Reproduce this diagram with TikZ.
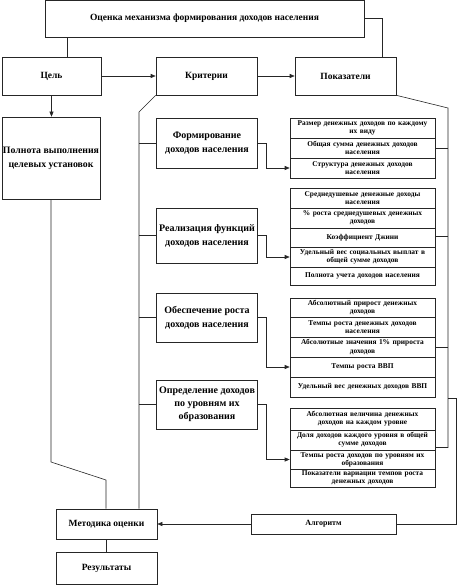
\documentclass[tikz,border=0pt]{standalone}
\usepackage{fontspec}
\setmainfont{Liberation Serif}
\usetikzlibrary{arrows.meta,calc}

\begin{document}
\begin{tikzpicture}[x=1pt,y=-1pt,
    box/.style={draw=black!85, line width=0.6pt, align=center, inner sep=1pt,
        font=\fontsize{9.5}{12}\selectfont\bfseries},
    rowbox/.style={draw=black!85, line width=0.6pt, minimum width=145, text width=144,
        align=center, inner sep=0pt, font=\fontsize{7.4}{8.2}\selectfont\bfseries},
    link/.style={draw=black!85, line width=0.6pt},
    arr/.style={link, -{Triangle[length=5pt,width=4pt]}}]
    \useasboundingbox (0,0) rectangle (457,585);

    % Верхний блок
    \node[box, minimum width=319, minimum height=37] (top) at (204.5,18.5)
        {Оценка механизма формирования доходов населения};

    % Цель, критерии, показатели
    \node[box, minimum width=99, minimum height=38] (goal) at (51.5,76) {Цель};
    \node[box, minimum width=101, minimum height=38] (crit) at (206.5,76) {Критерии};
    \node[box, minimum width=101, minimum height=38] (ind) at (345.5,76) {Показатели};
    \node[box, minimum width=98, minimum height=82, font=\fontsize{9.8}{14}\selectfont\bfseries]
        (full) at (51,158) {Полнота выполнения\\целевых установок};

    % Критерии по блокам
    \node[box, minimum width=101, minimum height=50, font=\fontsize{10}{14}\selectfont\bfseries]
        (critA) at (207,143) {Формирование\\доходов населения};
    \node[box, minimum width=101, minimum height=55, font=\fontsize{10}{14}\selectfont\bfseries]
        (critB) at (207,235.5) {Реализация функций\\доходов населения};
    \node[box, minimum width=101, minimum height=49, font=\fontsize{10}{14}\selectfont\bfseries]
        (critC) at (207,317.5) {Обеспечение роста\\доходов населения};
    \node[box, minimum width=101, minimum height=49, font=\fontsize{10}{13}\selectfont\bfseries]
        (critD) at (207,404.5) {Определение доходов\\по уровням их\\образования};

    % Показатели: группа 1
    \node[rowbox, minimum height=20] (g1a) at (362.5,128) {Размер денежных доходов по каждому\\их виду};
    \node[rowbox, minimum height=20] (g1b) at (362.5,148) {Общая сумма денежных доходов\\населения};
    \node[rowbox, minimum height=20] (g1c) at (362.5,168) {Структура денежных доходов\\населения};

    % группа 2
    \node[rowbox, minimum height=20] (g2a) at (362.5,198) {Среднедушевые денежные доходы\\населения};
    \node[rowbox, minimum height=20] (g2b) at (362.5,218) {\% роста среднедушевых денежных\\доходов};
    \node[rowbox, minimum height=19] (g2c) at (362.5,237.5) {Коэффициент Джини};
    \node[rowbox, minimum height=20] (g2d) at (362.5,257) {Удельный вес социальных выплат в\\общей сумме доходов};
    \node[rowbox, minimum height=18] (g2e) at (362.5,276) {Полнота учета доходов населения};

    % группа 3
    \node[rowbox, minimum height=19] (g3a) at (362.5,307.5) {Абсолютный прирост денежных\\доходов};
    \node[rowbox, minimum height=20] (g3b) at (362.5,327) {Темпы роста денежных доходов\\населения};
    \node[rowbox, minimum height=20] (g3c) at (362.5,347) {Абсолютные значения 1\% прироста\\доходов};
    \node[rowbox, minimum height=20] (g3d) at (362.5,367) {Темпы роста ВВП};
    \node[rowbox, minimum height=20] (g3e) at (362.5,387) {Удельный вес денежных доходов ВВП};

    % группа 4
    \node[rowbox, minimum height=22] (g4a) at (362.5,419) {Абсолютная величина денежных\\доходов на каждом уровне};
    \node[rowbox, minimum height=20] (g4b) at (362.5,440) {Доля доходов каждого уровня в общей\\сумме доходов};
    \node[rowbox, minimum height=19] (g4c) at (362.5,459.5) {Темпы роста доходов по уровням их\\образования};
    \node[rowbox, minimum height=18] (g4d) at (362.5,478) {Показатели вариации темпов роста\\денежных доходов};

    % Нижние блоки
    \node[box, minimum width=101, minimum height=30] (method) at (106.5,524) {Методика оценки};
    \node[box, minimum width=101, minimum height=32] (result) at (106.5,568) {Результаты};
    \node[box, minimum width=145, minimum height=20, font=\fontsize{8}{10}\selectfont\bfseries]
        (algo) at (323.5,524) {Алгоритм};

    % Связи верхнего уровня
    \draw[link] ([xshift=16]goal.north) -- ([xshift=16]goal.north |- top.south);
    \draw[link] (top.east) -| ([xshift=37]ind.north);
    \draw[arr] (goal) -- (crit);
    \draw[arr] (crit) -- (ind);
    \draw[arr] (goal.south) -- (goal.south |- full.north);
    \coordinate (fb) at (51,462);
    \coordinate (mt) at (106,480);
    \draw[link] (full.south) -- (fb) -- (mt) -- (mt |- method.north);

    % Левая шина от критериев
    \coordinate (lb) at (139,112);
    \draw[link] (crit.south west) -- (lb) -- (lb |- method.north);
    \foreach \c in {critA,critB,critC,critD}
        \draw[link] (\c.west -| lb) -- (\c.west);

    % Стрелки к группам показателей
    \draw[arr] (critA.east) -- ++(8,0) |- (g1c.west);
    \draw[arr] (critB.east) -- ++(8,0) |- (g2d.west);
    \draw[arr] (critC.east) -- ++(8,0) |- (g3d.west);
    \draw[arr] (critD.east) -- ++(8,0) |- (g4c.west);

    % Правая шина от показателей
    \coordinate (rb) at (448,108);
    \coordinate (rj) at (448,398);
    \coordinate (g1m) at ($(g1a.north east)!0.5!(g1c.south east)$);
    \coordinate (g2m) at ($(g2a.north east)!0.5!(g2e.south east)$);
    \coordinate (g3m) at ($(g3a.north east)!0.5!(g3e.south east)$);
    \coordinate (g4m) at ($(g4a.north east)!0.5!(g4d.south east)$);
    \draw[link] (ind.south east) -- (rb) |- (g4m);
    \foreach \g in {g1m,g2m,g3m}
        \draw[link] (\g) -- (\g -| rb);
    \draw[link] (rj) -- ++(8,0) |- (algo.east);
    \draw[arr] (algo) -- (method);
    \draw[link] (method) -- (result);
\end{tikzpicture}
\end{document}
